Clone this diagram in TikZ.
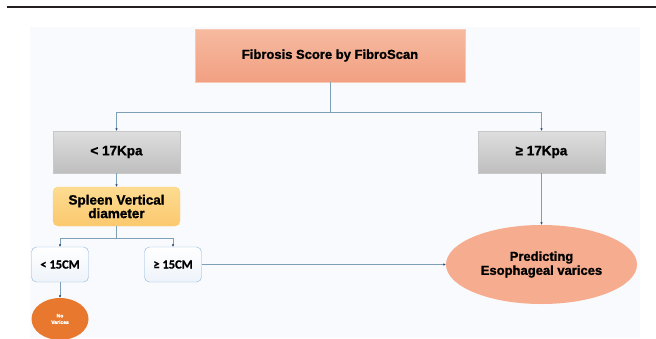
\documentclass[tikz,border=0pt]{standalone}
\usepackage{fontspec}
\setmainfont{Liberation Sans}[BoldFeatures={FakeBold=1.2}]
\newfontfamily\cmfont{Carlito}[BoldFeatures={FakeBold=1}]
\usetikzlibrary{arrows.meta, shapes.geometric}
\definecolor{linecol}{RGB}{125,160,182}
\definecolor{tipcol}{RGB}{40,70,110}
\definecolor{panel}{RGB}{249,250,253}
\tikzset{
  box/.style={draw, inner sep=0pt, align=center, font=\bfseries\fontsize{13}{14}\selectfont},
  titlebox/.style={box, draw={rgb,255:red,248;green,200;blue,180}, top color={rgb,255:red,246;green,186;blue,160}, bottom color={rgb,255:red,242;green,160;blue,130}, minimum width=270pt, minimum height=53pt},
  kpabox/.style={box, draw={rgb,255:red,200;green,200;blue,200}, top color={rgb,255:red,222;green,222;blue,222}, bottom color={rgb,255:red,190;green,190;blue,190}, minimum width=127pt, minimum height=42pt, font=\bfseries\fontsize{13.5}{14}\selectfont},
  spleenbox/.style={box, rounded corners=5pt, draw={rgb,255:red,252;green,210;blue,130}, top color={rgb,255:red,253;green,220;blue,145}, bottom color={rgb,255:red,251;green,200;blue,110}, minimum width=127pt, minimum height=39pt, font=\bfseries\fontsize{13.5}{13.5}\selectfont},
  cmbox/.style={box, rounded corners=5pt, draw={rgb,255:red,140;green,182;blue,222}, top color=white, bottom color={rgb,255:red,238;green,243;blue,250}, minimum width=57pt, minimum height=35pt, font=\cmfont\bfseries\fontsize{12.5}{13}\selectfont},
  predoval/.style={ellipse, inner sep=0pt, align=center, fill={rgb,255:red,246;green,172;blue,142}, minimum width=191pt, minimum height=79pt, font=\bfseries\fontsize{13}{14}\selectfont},
  nooval/.style={ellipse, inner sep=0pt, align=center, fill={rgb,255:red,232;green,120;blue,45}, text=white, minimum width=57pt, minimum height=42pt, font=\bfseries\fontsize{5}{6.5}\selectfont},
  conn/.style={draw=linecol, line width=1pt},
  arr/.style={conn, -{Latex[length=2.5pt, width=2.5pt, color=tipcol]}}
}
\begin{document}
\begin{tikzpicture}[x=1pt, y=-1pt]
\useasboundingbox (0, 0) rectangle (656, 338);
\fill [panel] (30, 27) rectangle (640, 338);
\draw [line width=2pt, color={rgb,255:red,35;green,31;blue,32}] (7, 7) -- (656, 7);
\node (title) [titlebox] at (330, 55.5) {Fibrosis Score by FibroScan};
\node (lo17) [kpabox] at (116.5, 152) {< 17Kpa};
\node (hi17) [kpabox] at (541.5, 152) {≥ 17Kpa};
\node (spleen) [spleenbox] at (116.5, 206.5) {Spleen Vertical\\diameter};
\node (lo15) [cmbox] at (60, 264.5) {< 15CM};
\node (hi15) [cmbox] at (173, 264.5) {≥ 15CM};
\node (novar) [nooval] at (60, 319) {No\\Varices};
\node (pred) [predoval] at (541.5, 264.5) {Predicting\\Esophageal varices};
\coordinate (split) at (330, 112);
\coordinate (split2) at (116.5, 238);
\draw [conn] (title) -- (split);
\draw [arr] (split) -| (lo17);
\draw [arr] (split) -| (hi17);
\draw [arr] (lo17) -- (spleen);
\draw [conn] (spleen) -- (split2);
\draw [arr] (split2) -| (lo15);
\draw [arr] (split2) -| (hi15);
\draw [arr] (lo15) -- (novar);
\draw [arr] (hi15) -- (pred);
\draw [arr] (hi17) -- (pred);
\end{tikzpicture}
\end{document}
